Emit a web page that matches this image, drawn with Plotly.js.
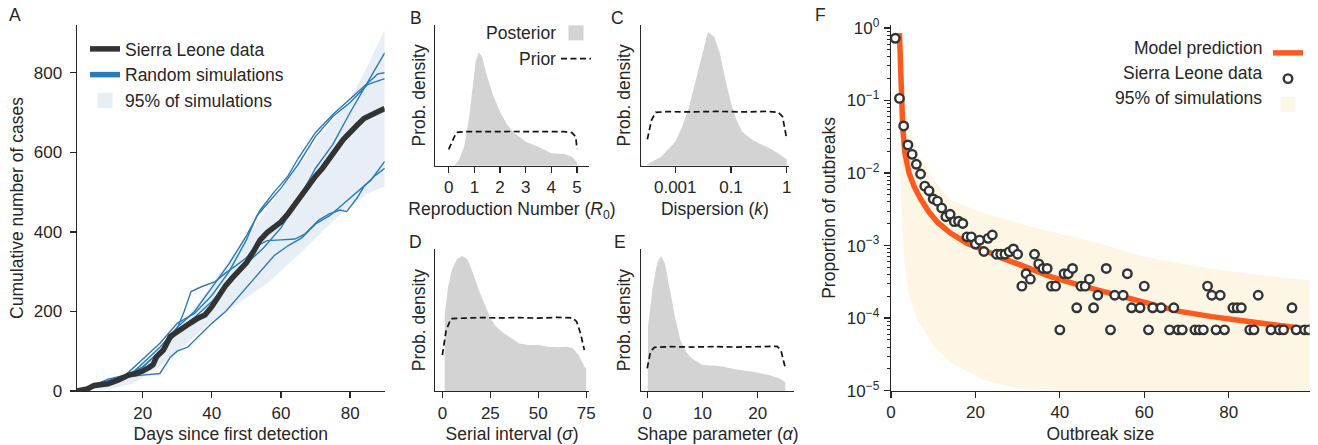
<!DOCTYPE html>
<html><head><meta charset="utf-8">
<script src="https://cdn.plot.ly/plotly-3.0.1.min.js"></script>
<style>html,body{margin:0;padding:0;background:#fff}#chart{width:1318px;height:445px}</style>
</head><body><div id="chart"></div>
<script>
// ---------- Panel A: cumulative cases ----------
const dataDays  = [1,4,6,8,10,13,16,18,20,22,23,24,26,28,30,32,34,36,38,40,42,44,46,48,50,52,54,56,58,60,62,64,66,68,70,72,74,76,78,80,82,84,86,88,90];
const dataCases = [0,5,14,15,18,28,40,44,50,60,66,86,103,137,150,160,172,183,191,212,240,265,285,302,322,350,380,398,410,425,445,470,495,520,540,560,582,608,632,652,668,685,695,702,710];

const sim1Days  = [1,5,10,15,20,25,30,35,40,45,50,55,60,65,70,75,80,85,90];
const sim1Cases = [0,8,18,35,60,100,150,185,225,270,320,360,410,480,560,620,700,775,850];
const sim2Days  = [1,5,10,13,17,20,25,30,35,40,45,50,54,58,62,65,70,75,80,85,88,90];
const sim2Cases = [0,12,25,35,45,70,110,160,200,260,320,390,455,500,540,585,650,695,735,775,797,800];
const sim3Days  = [1,6,10,15,20,25,30,35,40,45,50,53,57,60,65,70,75,80,85,90];
const sim3Cases = [0,15,30,40,80,120,170,195,240,300,380,440,480,510,570,640,690,725,770,785];
const sim4Days  = [1,5,10,15,20,25,29,32,34,37,41,44,47,50,53,56,60,64,67,71,74,77,79,82,84,87,90];
const sim4Cases = [0,12,20,38,60,100,137,200,250,262,275,297,315,335,365,378,380,382,395,430,445,455,451,485,514,540,560];
const sim5Days  = [1,5,10,15,20,25,28,30,33,36,40,44,47,50,54,58,62,66,70,74,78,82,86,90];
const sim5Cases = [0,8,20,35,40,44,85,100,110,135,170,200,230,262,300,340,365,385,420,440,470,500,530,577];

const bandADaysUpper = [1,3,10.6,17.3,22.2,28.9,36.7,44.4,51.1,60.8,70.5,80,85,90];
const bandAUpper     = [0,2.5,19,53,86,145,229,321,397,514,631,732,816,908];
const bandADaysLower = [1,2.8,10.6,17.3,25,31.8,40.5,46.3,56,65.6,75.3,85,90];
const bandALower     = [0,0,5,19,61,111,180,212,271,346,430,497,514];

// ---------- Panels B-E: densities (relative height) ----------
const bPostX  = [0.2,0.4,0.6,0.8,0.95,1.05,1.17,1.3,1.5,1.75,2.0,2.25,2.5,3.0,3.5,4.0,4.5,4.8,5.0,5.0];
const bPostY  = [0,0.04,0.135,0.35,0.585,0.74,0.806,0.775,0.633,0.49,0.384,0.30,0.242,0.171,0.135,0.088,0.083,0.064,0.024,0];
const bPriorX = [0,0.17,0.3,0.6,1.0,1.5,2.0,2.5,3.0,3.5,4.0,4.5,4.8,4.95,5.0];
const bPriorY = [0.116,0.18,0.237,0.242,0.243,0.241,0.242,0.243,0.242,0.241,0.242,0.242,0.235,0.206,0.118];

const cPostLogK = [-4.0,-3.5,-3.0,-2.75,-2.5,-2.25,-2.0,-1.83,-1.6,-1.4,-1.2,-1.0,-0.8,-0.6,-0.4,-0.2,0,0.5,1.0,1.0];
const cPostY    = [0.01,0.064,0.17,0.277,0.42,0.61,0.82,0.948,0.917,0.80,0.61,0.443,0.325,0.242,0.21,0.18,0.159,0.111,0.045,0];
const cPriorLogK = [-4.0,-3.85,-3.7,-3.3,-2.5,-1.5,-0.5,0.3,0.7,0.85,1.0];
const cPriorY    = [0.187,0.325,0.379,0.384,0.382,0.386,0.382,0.386,0.379,0.348,0.187];

const dPostX  = [1.2,1.2,3,5,7.5,10.4,13,16,19,22,25,28,32,36,40,45,50,55,60,65,68,71,74,75,75];
const dPostY  = [0,0.536,0.736,0.854,0.929,0.953,0.929,0.831,0.713,0.607,0.513,0.454,0.407,0.372,0.336,0.325,0.325,0.313,0.308,0.313,0.301,0.254,0.172,0.16,0];
const dPriorX = [0,2,4.5,10,20,30,40,50,60,68,70,72,74];
const dPriorY = [0.254,0.431,0.511,0.515,0.518,0.516,0.518,0.514,0.52,0.515,0.489,0.407,0.289];

const ePostX  = [0.1,0.15,1.0,1.8,2.5,3.2,4.0,5.0,6.0,7.0,8.0,10,13,16,19,22,24,25,25];
const ePostY  = [0,0.454,0.736,0.90,0.953,0.90,0.736,0.525,0.36,0.278,0.231,0.184,0.176,0.153,0.136,0.113,0.089,0.061,0];
const ePriorX = [0,0.6,1.3,4,8,12,16,20,23.5,24.2,25];
const ePriorY = [0.16,0.278,0.308,0.313,0.31,0.313,0.31,0.313,0.315,0.289,0.16];

// ---------- Panel F: outbreak size distribution ----------
const sizeData = [1,2,3,4,5,6,7,8,9,10,11,12,13,14,15,16,17,18,19,20,21,22,23,24,25,26,27,28,29,30,31,32,33,34,35,36,37,38,39,40,41,42,43,44,45,46,47,48,49,51,52,53,55,56,57,59,60,61,62,64,66,67,68,69,72,73,74,75,76,77,78,79,81,82,83,85,86,87,90,92,93,95,96,98,99];
const propData = [0.72,0.107,0.0446,0.0244,0.0181,0.0132,0.0097,0.0066,0.0057,0.0044,0.0041,0.0033,0.0025,0.0027,0.00214,0.00217,0.00202,0.00132,0.00132,0.00105,0.00119,0.00083,0.00126,0.0014,0.00076,0.00076,0.00076,0.00082,0.0009,0.00076,0.000276,0.00041,0.000345,0.00076,0.00056,0.000484,0.000484,0.000276,0.000276,0.000069,0.00041,0.00041,0.000484,0.000139,0.000276,0.000276,0.000345,0.000139,0.000207,0.000484,0.000069,0.000207,0.000207,0.00041,0.000139,0.000139,0.000276,0.000069,0.000139,0.000139,0.000069,0.000139,0.000069,0.000069,0.000069,0.000069,0.000069,0.000276,0.000207,0.000069,0.000207,0.000069,0.000139,0.000139,0.000139,0.000069,0.000069,0.000207,0.000069,0.000069,0.000069,0.000139,0.000069,0.000069,0.000069];
const sizeModel = [2,2.2,2.4,2.75,3.3,4.3,5.5,7,9,11,14,18,22,26,30,38,45,53,60,68,76,85,92,99];
const propModel = [0.85,0.25,0.09,0.044,0.0186,0.0099,0.0065,0.0044,0.0029,0.0021,0.0015,0.00108,0.00087,0.00068,0.00056,0.00037,0.00028,0.00021,0.00016,0.000125,0.000105,0.000088,0.000079,0.000071];
const bandFSizeUpper = [1.9,2.2,2.75,3.9,6.3,10.2,14.1,22,32,41,50,60,73,85,99.2];
const bandFUpper     = [1.05,1.0,0.26,0.054,0.0186,0.0079,0.0043,0.0028,0.0019,0.0014,0.00105,0.0007,0.00051,0.00041,0.00033];
const bandFSizeLower = [1.9,2.1,2.3,2.75,3.2,4.3,6.3,10.2,14.2,22,30,38,50,70,99.2];
const bandFLower     = [1.0,0.05,0.006,0.0016,0.00057,0.0002,0.000094,0.00004,0.000024,0.000014,0.0000107,0.00001,0.0000085,0.0000075,0.000007];

// legend labels of panels B and F (drawn as text before their keys)
const legendBLabels = ['Posterior', 'Prior'];
const legendFLabels = ['Model prediction', 'Sierra Leone data', '95% of simulations'];

// ---------- styling ----------
const W = 1318, H = 445;
const INK = '#262626';
const BLUE = '#2a7ab9';
const FONT = 'Liberation Sans, Arial, Helvetica, sans-serif';
const FS = 17.5, TFS = 17;
const px = (a,b) => [a/W, b/W];
const py = (top,bottom) => [1-bottom/H, 1-top/H];

const axisBase = {showline:true, linecolor:INK, linewidth:1.3, ticks:'outside', ticklen:6, tickwidth:1.3,
  tickcolor:INK, showgrid:false, zeroline:false, tickfont:{size:TFS, color:INK}, fixedrange:true};
const densY = (dom) => Object.assign({}, axisBase, {domain:dom, range:[0,1], ticks:'', showticklabels:false,
  title:{text:'Prob. density', font:{size:FS}, standoff:4}});

const traces = [];
// Panel A
traces.push({x:bandADaysLower, y:bandALower, mode:'lines', line:{width:0}, showlegend:false, hoverinfo:'skip', xaxis:'x', yaxis:'y'});
traces.push({x:bandADaysUpper, y:bandAUpper, mode:'lines', line:{width:0}, fill:'tonexty', fillcolor:'#e7eef6', showlegend:false, hoverinfo:'skip', xaxis:'x', yaxis:'y'});
[[sim1Days,sim1Cases],[sim2Days,sim2Cases],[sim3Days,sim3Cases],[sim4Days,sim4Cases],[sim5Days,sim5Cases]].forEach(s => {
  traces.push({x:s[0], y:s[1], mode:'lines', line:{color:BLUE, width:1.4}, showlegend:false, xaxis:'x', yaxis:'y'});
});
traces.push({x:dataDays, y:dataCases, mode:'lines', line:{color:'#333333', width:5.5}, name:'Sierra Leone data', legend:'legend', legendrank:1, xaxis:'x', yaxis:'y'});
traces.push({x:[null], y:[null], mode:'lines', line:{color:BLUE, width:5.5}, name:'Random simulations', legend:'legend', legendrank:2, xaxis:'x', yaxis:'y'});
traces.push({x:[null], y:[null], mode:'markers', marker:{symbol:'square', size:15, color:'#e7eef6'}, name:'95% of simulations', legend:'legend', legendrank:3, xaxis:'x', yaxis:'y'});

// Panels B-E
const GRAY = '#d3d3d3';
const dens = [[bPostX,bPostY,bPriorX,bPriorY,'x2','y2'],[cPostLogK,cPostY,cPriorLogK,cPriorY,'x3','y3'],
              [dPostX,dPostY,dPriorX,dPriorY,'x4','y4'],[ePostX,ePostY,ePriorX,ePriorY,'x5','y5']];
dens.forEach((d,i) => {
  traces.push({x:d[0], y:d[1], mode:'lines', line:{width:0}, fill:'tozeroy', fillcolor:GRAY, showlegend:false, hoverinfo:'skip', xaxis:d[4], yaxis:d[5]});
  traces.push({x:d[2], y:d[3], mode:'lines', line:{color:'#111', width:1.7, dash:'6px,3.5px'}, name:' ', legend:'legend2', legendrank:2, showlegend:i===0, xaxis:d[4], yaxis:d[5]});
});
traces.push({x:[null], y:[null], mode:'markers', marker:{symbol:'square', size:15, color:GRAY}, name:' ', legend:'legend2', legendrank:1, xaxis:'x2', yaxis:'y2'});

// Panel F
traces.push({x:bandFSizeLower, y:bandFLower, mode:'lines', line:{width:0}, showlegend:false, hoverinfo:'skip', xaxis:'x6', yaxis:'y6'});
traces.push({x:bandFSizeUpper, y:bandFUpper, mode:'lines', line:{width:0}, fill:'tonexty', fillcolor:'#fdf6e4', showlegend:false, hoverinfo:'skip', xaxis:'x6', yaxis:'y6'});
traces.push({x:sizeModel, y:propModel, mode:'lines', line:{color:'#fc5a1f', width:5.5}, name:' ', legend:'legend3', legendrank:1, xaxis:'x6', yaxis:'y6'});
traces.push({x:sizeData, y:propData, mode:'markers', marker:{symbol:'circle', size:8.5, color:'#ffffff', line:{color:'#333333', width:2.4}}, name:' ', legend:'legend3', legendrank:2, xaxis:'x6', yaxis:'y6'});
traces.push({x:[null], y:[null], mode:'markers', marker:{symbol:'square', size:15, color:'#fdf6e4'}, name:' ', legend:'legend3', legendrank:3, xaxis:'x6', yaxis:'y6'});

const minorF = [];
for (let e=-5; e<0; e++) for (let m=2; m<=9; m++) minorF.push(m*Math.pow(10,e));

const legBase = {bgcolor:'rgba(0,0,0,0)', borderwidth:0, font:{size:FS, color:INK, family:FONT}, xanchor:'left', yanchor:'top',
  itemwidth:30, tracegroupgap:0, traceorder:'normal'};

const legendTextAnn = (text, xPx, yPx) => ({text, x:xPx/W, y:1-yPx/H, xref:'paper', yref:'paper', showarrow:false,
  xanchor:'right', yanchor:'middle', font:{size:FS, color:INK}});

const layout = {
  width:W, height:H, margin:{l:0,r:0,t:0,b:0}, paper_bgcolor:'#fff', plot_bgcolor:'rgba(0,0,0,0)',
  font:{family:FONT, size:FS, color:INK}, showlegend:true, hovermode:false,
  xaxis: Object.assign({}, axisBase, {domain:px(77,385), range:[1,90], tickvals:[20,40,60,80], anchor:'y',
    title:{text:'Days since first detection', font:{size:FS}, standoff:6}}),
  yaxis: Object.assign({}, axisBase, {domain:py(25,391), range:[0,920], tickvals:[0,200,400,600,800], anchor:'x',
    ticklabelstandoff:4, title:{text:'Cumulative number of cases', font:{size:FS}, standoff:5}}),
  xaxis2: Object.assign({}, axisBase, {domain:px(435.7,589), range:[-0.52,5.45], tickvals:[0,1,2,3,4,5], anchor:'y2',
    title:{text:'Reproduction Number (<i>R</i><sub>0</sub>)', font:{size:FS}, standoff:6}}),
  yaxis2: Object.assign(densY(py(25,165.7)), {anchor:'x2'}),
  xaxis3: Object.assign({}, axisBase, {domain:px(641.7,789.3), range:[-4.22,1.07], tickvals:[-3,-1,1], ticktext:['0.001','0.1','1'], anchor:'y3',
    title:{text:'Dispersion (<i>k</i>)', font:{size:FS}, standoff:6}}),
  yaxis3: Object.assign(densY(py(25,165.7)), {anchor:'x3'}),
  xaxis4: Object.assign({}, axisBase, {domain:px(435.7,589.3), range:[-3.65,76.35], tickvals:[0,25,50,75], anchor:'y4',
    title:{text:'Serial interval (<i>σ</i>)', font:{size:FS}, standoff:6}}),
  yaxis4: Object.assign(densY(py(249.3,391)), {anchor:'x4'}),
  xaxis5: Object.assign({}, axisBase, {domain:px(641.7,795), range:[-1.085,26.64], tickvals:[0,10,20], anchor:'y5',
    title:{text:'Shape parameter (<i>α</i>)', font:{size:FS}, standoff:6}}),
  yaxis5: Object.assign(densY(py(249.3,391)), {anchor:'x5'}),
  xaxis6: Object.assign({}, axisBase, {domain:px(891.7,1310.7), range:[0,99.2], tickvals:[0,20,40,60,80], anchor:'y6',
    title:{text:'Outbreak size', font:{size:FS}, standoff:6}}),
  yaxis6: Object.assign({}, axisBase, {domain:py(25,390.7), type:'log', range:[-5,0.041], anchor:'x6',
    tickmode:'array', tickvals:[1e-5,1e-4,1e-3,1e-2,1e-1,1],
    ticktext:['10<sup>−5</sup>','10<sup>−4</sup>','10<sup>−3</sup>','10<sup>−2</sup>','10<sup>−1</sup>','10<sup>0</sup>'],
    minor:{tickmode:'array', tickvals:minorF, ticklen:3, tickwidth:1, tickcolor:INK, showgrid:false},
    ticklabelstandoff:1, title:{text:'Proportion of outbreaks', font:{size:FS}, standoff:6}}),
  legend:  Object.assign({}, legBase, {x:85/W, y:1-31/H}),
  legend2: Object.assign({}, legBase, {x:556/W, y:1-15/H}),
  legend3: Object.assign({}, legBase, {x:1269/W, y:1-35/H}),
  annotations: [
    {text:'A', x:15/W, y:1-15/H}, {text:'B', x:416.7/W, y:1-18.3/H}, {text:'C', x:618.3/W, y:1-18.3/H},
    {text:'D', x:416/W, y:1-241.7/H}, {text:'E', x:620/W, y:1-241.7/H}, {text:'F', x:820.7/W, y:1-15/H}
  ].map(a => Object.assign({xref:'paper', yref:'paper', showarrow:false, xanchor:'center', yanchor:'middle', font:{size:FS, color:INK}}, a))
  .concat([
    legendTextAnn(legendBLabels[0], 558, 33.3), legendTextAnn(legendBLabels[1], 558, 59.3),
    legendTextAnn(legendFLabels[0], 1265, 48.3), legendTextAnn(legendFLabels[1], 1265, 72.7), legendTextAnn(legendFLabels[2], 1265, 98.3)
  ])
};

// remove invisible placeholder <text> nodes (empty or zero-sized) that are left after drawing
function dropEmptyTexts() {
  document.querySelectorAll('text').forEach(t => {
    let bb = null;
    try { bb = t.getBBox(); } catch (e) { bb = null; }
    if (!t.textContent.trim() || !bb || bb.width === 0 || bb.height === 0) t.remove();
  });
}

Plotly.newPlot('chart', traces, layout, {staticPlot:true, displayModeBar:false}).then(gd => {
  dropEmptyTexts();
  if (gd.on) gd.on('plotly_afterplot', dropEmptyTexts);
  setTimeout(dropEmptyTexts, 150);
});
</script></body></html>
